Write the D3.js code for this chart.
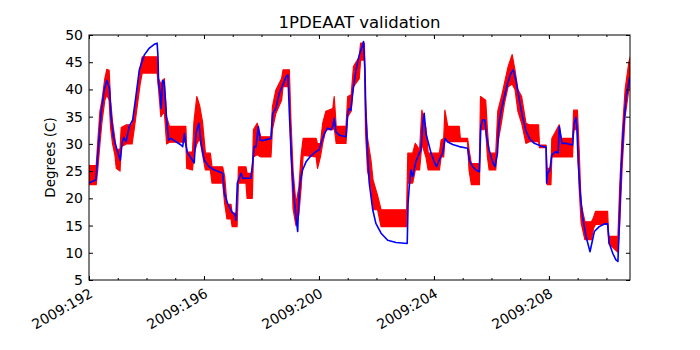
<!DOCTYPE html>
<html>
<head>
<meta charset="utf-8">
<script src="https://cdn.jsdelivr.net/npm/d3@7"></script>
<style>
  body { margin: 0; background: #fff; }
  text { font-family: "DejaVu Sans", sans-serif; }
</style>
</head>
<body>
<div id="chart"></div>
<script>
// day of year (2009) for the model curve and its temperatures
const modelDays = [192.00, 192.24, 192.30, 192.42, 192.53, 192.62, 192.71, 192.77, 192.85, 192.94, 193.03, 193.09, 193.15, 193.21, 193.29, 193.40, 193.52, 193.63, 193.75, 193.92, 194.10, 194.27, 194.37, 194.40, 194.42, 194.47, 194.51, 194.56, 194.61, 194.65, 194.70, 194.77, 194.85, 195.03, 195.20, 195.26, 195.32, 195.37, 195.43, 195.55, 195.66, 195.72, 195.82, 195.90, 196.01, 196.18, 196.36, 196.53, 196.65, 196.71, 196.82, 196.97, 197.09, 197.11, 197.16, 197.29, 197.35, 197.63, 197.69, 197.75, 197.81, 197.89, 197.95, 198.04, 198.33, 198.39, 198.50, 198.62, 198.74, 198.85, 198.92, 198.97, 199.03, 199.11, 199.20, 199.26, 199.29, 199.34, 199.43, 199.55, 199.72, 199.90, 200.01, 200.07, 200.19, 200.30, 200.42, 200.48, 200.53, 200.59, 200.71, 200.94, 201.00, 201.05, 201.11, 201.17, 201.29, 201.40, 201.50, 201.55, 201.60, 201.63, 201.69, 201.75, 201.87, 201.98, 202.16, 202.39, 202.68, 203.07, 203.10, 203.14, 203.20, 203.26, 203.37, 203.49, 203.55, 203.61, 203.66, 203.72, 203.78, 203.90, 204.01, 204.09, 204.18, 204.30, 204.39, 204.47, 204.65, 204.88, 205.17, 205.23, 205.35, 205.46, 205.58, 205.63, 205.69, 205.77, 205.83, 205.92, 206.04, 206.12, 206.21, 206.25, 206.33, 206.45, 206.56, 206.68, 206.76, 206.85, 206.97, 207.08, 207.20, 207.32, 207.49, 207.72, 207.90, 207.92, 207.95, 208.03, 208.10, 208.24, 208.32, 208.36, 208.42, 208.45, 208.59, 208.82, 208.88, 208.94, 208.97, 209.02, 209.08, 209.17, 209.29, 209.43, 209.49, 209.58, 209.75, 209.93, 210.04, 210.10, 210.22, 210.33, 210.40, 210.45, 210.51, 210.59, 210.69, 210.81];
const modelTemps = [22.8, 23.4, 27.6, 35.7, 39.9, 41.7, 40.2, 35.0, 31.3, 29.5, 28.0, 27.0, 30.1, 31.2, 30.4, 33.2, 34.4, 38.7, 43.6, 46.3, 47.6, 48.3, 48.5, 46.0, 41.1, 39.6, 36.5, 41.7, 41.4, 38.7, 34.4, 30.7, 31.0, 30.4, 29.8, 29.5, 31.9, 29.8, 28.3, 27.4, 26.5, 31.9, 33.8, 30.1, 27.0, 25.8, 25.2, 24.9, 24.6, 20.9, 19.1, 17.5, 16.9, 16.0, 22.8, 24.6, 23.7, 23.7, 26.4, 29.5, 29.5, 33.2, 30.7, 30.6, 31.0, 35.6, 36.5, 39.3, 40.8, 42.3, 42.7, 35.6, 28.3, 21.5, 16.6, 13.9, 18.5, 22.8, 25.2, 26.7, 27.8, 28.6, 28.9, 30.1, 31.9, 32.9, 32.6, 33.2, 34.7, 32.2, 31.6, 31.3, 35.6, 36.5, 36.2, 39.3, 43.6, 46.3, 47.9, 48.8, 43.6, 35.6, 28.3, 22.8, 17.9, 15.4, 13.6, 12.3, 11.9, 11.7, 19.1, 22.1, 25.2, 24.0, 26.7, 28.3, 28.9, 33.8, 35.6, 31.9, 30.7, 28.3, 26.7, 25.8, 27.0, 28.3, 31.0, 30.4, 29.9, 29.5, 29.2, 27.0, 25.8, 25.2, 24.9, 33.2, 34.4, 34.4, 31.3, 28.9, 26.7, 25.8, 28.3, 33.2, 35.9, 38.7, 41.1, 43.0, 43.6, 41.7, 38.1, 35.0, 32.4, 31.0, 30.1, 29.6, 29.4, 22.8, 24.6, 25.2, 28.0, 28.6, 28.3, 33.2, 31.3, 30.1, 30.1, 29.8, 33.8, 34.9, 33.2, 26.4, 21.5, 16.6, 13.0, 10.2, 11.7, 13.9, 14.8, 15.3, 15.3, 11.7, 9.9, 8.7, 8.4, 15.4, 25.2, 32.6, 38.7, 42.3];

// telemetry: day, lower and upper edge of the noisy band
const telemDays = [192.00, 192.25, 192.30, 192.38, 192.45, 192.55, 192.62, 192.70, 192.75, 192.82, 192.90, 192.95, 193.08, 193.12, 193.30, 193.50, 193.58, 193.68, 193.78, 193.85, 194.37, 194.42, 194.50, 194.62, 194.70, 194.80, 195.37, 195.40, 195.60, 195.65, 195.75, 195.85, 195.95, 196.05, 196.22, 196.28, 196.65, 196.72, 196.80, 196.94, 196.98, 197.15, 197.20, 197.46, 197.50, 197.68, 197.72, 197.85, 197.98, 198.33, 198.38, 198.50, 198.70, 198.75, 198.97, 199.02, 199.10, 199.20, 199.30, 199.38, 199.45, 199.90, 199.95, 200.05, 200.13, 200.24, 200.48, 200.53, 200.60, 200.94, 201.00, 201.12, 201.20, 201.40, 201.45, 201.58, 201.62, 201.69, 201.81, 201.88, 202.04, 202.16, 203.05, 203.09, 203.26, 203.35, 203.50, 203.58, 203.72, 203.80, 204.19, 204.25, 204.34, 204.38, 204.48, 204.88, 204.92, 205.17, 205.22, 205.30, 205.58, 205.62, 205.80, 205.86, 205.92, 206.15, 206.22, 206.35, 206.45, 206.58, 206.72, 206.82, 206.92, 207.05, 207.20, 207.32, 207.64, 207.67, 207.90, 207.94, 208.07, 208.10, 208.36, 208.42, 208.82, 208.86, 208.99, 209.05, 209.12, 209.25, 209.48, 209.55, 209.62, 210.04, 210.08, 210.40, 210.46, 210.55, 210.65, 210.78, 210.83];
const telemLow = [22.5, 22.5, 25.0, 30.0, 34.0, 38.0, 39.0, 38.0, 33.0, 30.0, 28.0, 25.5, 25.0, 29.5, 30.0, 30.0, 33.0, 37.0, 41.0, 43.0, 43.0, 40.0, 35.0, 36.0, 30.0, 30.3, 30.3, 25.5, 25.2, 28.0, 30.0, 31.0, 28.0, 25.2, 25.2, 22.8, 22.8, 19.0, 16.2, 16.2, 14.8, 14.8, 22.8, 22.8, 20.0, 20.0, 27.6, 28.0, 27.6, 27.6, 32.6, 35.6, 38.0, 40.5, 40.5, 29.0, 18.0, 15.0, 17.0, 22.0, 27.9, 27.6, 25.5, 27.6, 30.1, 32.6, 32.6, 33.0, 30.1, 30.1, 35.0, 36.0, 40.5, 42.0, 45.4, 45.4, 32.0, 25.0, 22.0, 17.9, 17.9, 14.8, 14.8, 22.8, 22.8, 25.2, 25.2, 30.0, 27.6, 25.2, 25.2, 27.6, 27.6, 31.0, 30.4, 30.4, 30.4, 30.4, 25.2, 22.5, 22.5, 32.6, 32.6, 27.6, 25.2, 25.2, 30.0, 34.0, 37.4, 40.5, 41.0, 40.0, 36.0, 33.8, 30.1, 30.4, 30.4, 29.3, 29.3, 22.5, 22.5, 27.6, 27.6, 27.6, 27.6, 32.6, 32.6, 22.0, 15.5, 12.4, 12.4, 14.5, 15.2, 15.2, 11.7, 10.1, 15.0, 26.0, 35.0, 40.0, 41.0];
const telemHigh = [26.0, 26.0, 30.0, 36.0, 38.0, 42.0, 43.7, 43.5, 38.0, 34.0, 31.0, 29.0, 29.0, 33.0, 33.5, 33.5, 36.0, 40.0, 44.0, 46.0, 46.0, 42.0, 41.0, 42.0, 35.0, 33.2, 33.2, 28.5, 28.5, 34.0, 38.7, 37.0, 34.0, 28.3, 28.3, 25.8, 25.8, 24.0, 18.9, 18.9, 17.3, 17.3, 25.8, 25.8, 24.6, 24.6, 32.6, 33.8, 31.3, 31.3, 36.8, 39.9, 42.0, 43.6, 43.6, 35.0, 25.0, 19.0, 22.0, 28.0, 31.0, 31.0, 30.0, 30.1, 33.8, 36.0, 36.5, 38.7, 33.2, 33.2, 38.7, 39.0, 44.2, 46.0, 48.5, 48.5, 38.0, 31.0, 27.0, 23.4, 20.5, 17.9, 17.9, 28.3, 28.3, 30.1, 28.9, 36.2, 33.0, 28.3, 28.3, 30.7, 31.0, 36.2, 33.2, 33.2, 31.0, 31.0, 29.0, 26.4, 26.4, 38.7, 38.0, 32.6, 28.3, 28.3, 36.0, 38.7, 41.1, 44.2, 46.4, 43.5, 40.0, 38.7, 33.8, 33.5, 33.5, 29.8, 29.8, 25.5, 25.5, 31.0, 33.5, 31.0, 31.0, 36.2, 36.2, 29.0, 19.0, 15.7, 15.7, 16.5, 17.6, 17.6, 13.0, 13.0, 22.0, 32.0, 40.0, 45.0, 46.0];

const majorDays = [192, 196, 200, 204, 208];
const yTicks = [5, 10, 15, 20, 25, 30, 35, 40, 45, 50];

const width = 700, height = 350;
const margin = { top: 35, right: 70, bottom: 70, left: 89 };
const plotW = width - margin.left - margin.right;
const plotH = height - margin.top - margin.bottom;

const x = d3.scaleLinear().domain([192, 210.82]).range([0, plotW]);
const y = d3.scaleLinear().domain([5, 50]).range([plotH, 0]);

const svg = d3.select('#chart')
  .append('svg')
  .attr('width', width)
  .attr('height', height);

const g = svg.append('g')
  .attr('transform', 'translate(' + margin.left + ',' + margin.top + ')');

svg.append('defs').append('clipPath').attr('id', 'plotclip')
  .append('rect').attr('width', plotW).attr('height', plotH);

const plot = g.append('g').attr('clip-path', 'url(#plotclip)');

// red telemetry band
const band = d3.area()
  .x(function(i) { return x(telemDays[i]); })
  .y0(function(i) { return y(telemLow[i]); })
  .y1(function(i) { return y(telemHigh[i]); });

plot.append('path')
  .attr('d', band(d3.range(telemDays.length)))
  .attr('fill', '#ff0000')
  .attr('stroke', '#ff0000')
  .attr('stroke-width', 1.2)
  .attr('stroke-linejoin', 'round');

// blue model line
const line = d3.line()
  .x(function(i) { return x(modelDays[i]); })
  .y(function(i) { return y(modelTemps[i]); });

plot.append('path')
  .attr('d', line(d3.range(modelDays.length)))
  .attr('fill', 'none')
  .attr('stroke', '#0000ff')
  .attr('stroke-width', 1.6)
  .attr('stroke-linejoin', 'round');

// axes, ticks pointing inward like matplotlib
const minorDays = d3.range(192, 211, 1);

function tickStyle(sel) {
  sel.select('.domain').remove();
  sel.selectAll('line').attr('stroke', '#000');
}

g.append('g')
  .attr('transform', 'translate(0,' + plotH + ')')
  .call(d3.axisBottom(x).tickValues(minorDays).tickSize(-2).tickFormat(''))
  .call(tickStyle);
g.append('g')
  .call(d3.axisTop(x).tickValues(minorDays).tickSize(-2).tickFormat(''))
  .call(tickStyle);

const xAxis = g.append('g')
  .attr('transform', 'translate(0,' + plotH + ')')
  .call(d3.axisBottom(x).tickValues(majorDays).tickSize(-4).tickPadding(7)
    .tickFormat(function(d) { return '2009:' + d; }))
  .call(tickStyle);
xAxis.selectAll('text')
  .attr('font-size', 14)
  .attr('fill', '#000')
  .attr('text-anchor', 'end')
  .attr('x', 0)
  .attr('y', 9)
  .attr('dy', '0.6em')
  .attr('transform', 'rotate(-30,0,9)');

g.append('g')
  .call(d3.axisTop(x).tickValues(majorDays).tickSize(-4).tickFormat(''))
  .call(tickStyle);

const yAxis = g.append('g')
  .call(d3.axisLeft(y).tickValues(yTicks).tickSize(-4).tickPadding(6))
  .call(tickStyle);
yAxis.selectAll('text').attr('font-size', 14).attr('fill', '#000');

g.append('g')
  .attr('transform', 'translate(' + plotW + ',0)')
  .call(d3.axisRight(y).tickValues(yTicks).tickSize(-4).tickFormat(''))
  .call(tickStyle);

// frame
g.append('rect')
  .attr('width', plotW)
  .attr('height', plotH)
  .attr('fill', 'none')
  .attr('stroke', '#000')
  .attr('stroke-width', 1);

svg.append('text')
  .attr('x', margin.left + plotW / 2)
  .attr('y', 28)
  .attr('text-anchor', 'middle')
  .attr('font-size', 16.5)
  .text('1PDEAAT validation');

svg.append('text')
  .attr('transform', 'translate(55,' + (margin.top + plotH / 2) + ') rotate(-90)')
  .attr('text-anchor', 'middle')
  .attr('font-size', 13.5)
  .text('Degrees (C)');
</script>
</body>
</html>
